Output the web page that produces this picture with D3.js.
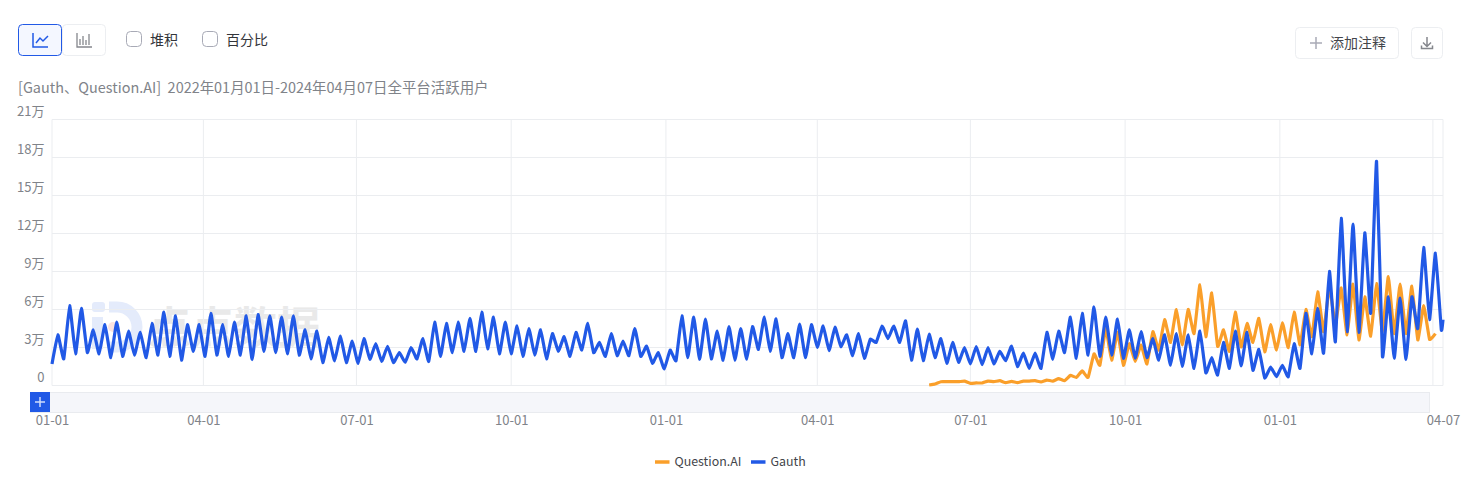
<!DOCTYPE html>
<html>
<head>
<meta charset="utf-8">
<script src="https://cdn.jsdelivr.net/npm/d3@7"></script>
<style>
  html, body { margin: 0; padding: 0; background: #fff; overflow: hidden; }
  svg { display: block; }
  text { font-family: "Noto Sans CJK SC", "Noto Sans", sans-serif; }
</style>
</head>
<body>
<div id="chart"></div>
<script>
// values in 万: one trough and one peak for every week
const gauth_values = [
  1.7,4.0, 2.1,6.3, 2.5,6.1, 2.6,4.4, 2.5,4.8, 2.2,5.0, 2.3,4.3, 2.4,4.2, 2.2,4.9, 2.4,5.8,
  2.3,5.5, 2.0,4.8, 2.7,4.8, 2.3,5.7, 2.4,4.8, 2.3,5.0, 2.4,5.5, 2.05,5.6, 2.7,5.5, 2.6,5.4,
  2.5,5.5, 2.4,4.4, 2.1,4.3, 1.8,3.8, 1.95,3.9, 1.8,3.5, 1.75,3.7, 2.07,3.3, 1.9,3.1, 1.8,2.6,
  1.83,3.0, 2.1,3.7, 1.9,5.0, 2.3,4.9, 2.6,5.0, 2.7,5.3, 2.7,5.8, 2.9,5.4, 2.5,5.0, 2.5,4.7,
  2.3,4.5, 2.4,4.4, 2.1,4.1, 2.7,3.85, 2.3,4.2, 2.8,4.9, 2.6,3.4, 2.3,4.1, 2.35,3.5, 2.35,4.5,
  2.3,3.1, 1.75,2.6, 1.3,2.8, 1.96,5.5, 2.2,5.4, 2.07,5.25, 2.1,4.3, 2.0,4.65, 2.0,4.5, 2.07,4.65,
  2.85,5.4, 2.7,5.25, 2.2,4.1, 2.2,4.85, 2.2,4.8, 3.0,4.7, 2.75,4.6, 3.07,4.0, 2.35,4.1, 2.15,3.65,
  3.4,4.7, 3.7,4.7, 3.4,5.1, 2.0,4.45, 1.96,4.05, 2.2,3.7, 1.75,3.4, 1.83,3.0, 1.7,3.07, 1.65,3.0,
  1.7,2.7, 1.96,3.1, 1.5,2.55, 1.35,2.55, 1.35,4.2, 2.07,4.3, 2.6,5.4, 2.15,5.7, 2.4,6.2, 2.3,5.4,
  2.4,5.25, 2.15,4.4, 2.15,4.25, 2.2,3.7, 2.0,4.0, 1.6,4.1, 1.5,4.0, 1.35,4.3, 1.0,2.2, 0.83,3.4,
  1.35,4.3, 1.55,4.2, 1.2,2.85, 0.6,1.45, 0.7,1.6, 0.7,3.3, 1.35,5.7, 2.5,6.1, 2.55,9.0, 3.45,13.2,
  4.25,12.75, 4.2,12.05, 5.7,17.7, 2.3,7.0, 2.15,6.9, 2.05,7.0, 4.5,10.9, 5.2,10.45, 4.4,5.2
]

// starts at the peak of week 74
const question_values = [
  0.04, 0.12,0.3, 0.3,0.3, 0.3,0.35, 0.17,0.2, 0.2,0.35, 0.3,0.38,
  0.22,0.33, 0.22,0.35, 0.35,0.38, 0.28,0.43, 0.35,0.54, 0.38,0.8, 0.64,1.15, 0.64,2.5,
  1.6,4.5, 2.0,4.2, 1.6,3.3, 1.9,3.2, 1.7,4.25, 2.8,5.2, 3.4,6.0, 3.2,6.0, 4.1,7.95, 3.85,7.3,
  3.1,4.4, 2.7,5.8, 3.05,4.9, 3.4,5.3, 2.65,4.8, 2.8,4.95, 3.0,5.8, 3.2,6.0, 3.85,7.4, 4.25,7.8,
  4.8,7.7, 4.0,8.0, 3.6,7.0, 3.9,8.05, 4.25,8.6, 4.1,8.0, 4.1,7.85, 3.6,6.3, 3.65, 4.1
]
const question_start_index = 149

const series_names = ["Question.AI", "Gauth"]
const series_colors = ["#fa9f2a", "#2159e6"]
const y_ticks = [0, 3, 6, 9, 12, 15, 18, 21]
const grid_dates = ["2022-04-01", "2022-07-01", "2022-10-01", "2023-01-01", "2023-04-01", "2023-07-01", "2023-10-01", "2024-01-01", "2024-04-01"]
const label_dates = ["2022-01-01", "2022-04-01", "2022-07-01", "2022-10-01", "2023-01-01", "2023-04-01", "2023-07-01", "2023-10-01", "2024-01-01", "2024-04-07"]
const start_date = "2022-01-01"
const end_date = "2024-04-07"
const subtitle = "[Gauth、Question.AI]  2022年01月01日-2024年04月07日全平台活跃用户"

const width = 1465
const height = 492
const margin = { left: 52, right: 22, top: 119.5, bottom: 106.5 }
const grid_color = "#ebedf0"
const label_color = "#808389"

const svg = d3.select("#chart").append("svg")
  .attr("width", width)
  .attr("height", height)

const parse = d3.utcParse("%Y-%m-%d")
const x = d3.scaleUtc()
  .domain([parse(start_date), parse(end_date)])
  .range([margin.left, width - margin.right])
const y = d3.scaleLinear()
  .domain([0, 21])
  .range([height - margin.bottom, margin.top])

// half week steps, last point is clipped to the end date
const date_at = (i) => new Date(Math.min(+parse(start_date) + i * 3.5 * 864e5, +parse(end_date)))

// toolbar
const box = (g, bx, by, w, h, stroke, fill, r = 4) => g.append("rect")
  .attr("x", bx).attr("y", by).attr("width", w).attr("height", h)
  .attr("rx", r).attr("fill", fill).attr("stroke", stroke)

const toolbar = svg.append("g")
box(toolbar, 62.5, 24.5, 43, 31, "#eceef1", "#fff")
box(toolbar, 18.5, 24.5, 43, 31, "#2159e6", "#f4f7ff")
toolbar.append("path")
  .attr("d", "M33 33v14h15M36 43l4-5 3 3 5-5")
  .attr("fill", "none").attr("stroke", "#2159e6").attr("stroke-width", 1.5)
toolbar.append("path")
  .attr("d", "M77 33v14h15M80 45v-6M83 45v-9M86 45v-5M89 45v-11")
  .attr("fill", "none").attr("stroke", "#85878d").attr("stroke-width", 1.3)

box(toolbar, 126.5, 31.5, 15, 15, "#a8aab6", "#fff", 4)
box(toolbar, 202.5, 31.5, 15, 15, "#a8aab6", "#fff", 4)
toolbar.append("text").attr("x", 150).attr("y", 44.5).attr("font-size", 14).attr("fill", "#33353a").text("堆积")
toolbar.append("text").attr("x", 226).attr("y", 44.5).attr("font-size", 14).attr("fill", "#33353a").text("百分比")

box(toolbar, 1295.5, 27.5, 103, 31, "#eceef1", "#fff")
toolbar.append("path")
  .attr("d", "M1310 43h12M1316 37v12")
  .attr("fill", "none").attr("stroke", "#a9abb6").attr("stroke-width", 1.5)
toolbar.append("text").attr("x", 1330).attr("y", 48).attr("font-size", 14).attr("fill", "#43454a").text("添加注释")
box(toolbar, 1411.5, 27.5, 31, 31, "#eceef1", "#fff")
toolbar.append("path")
  .attr("d", "M1427 37v9M1423 42.5l4 4 4-4M1421.500 45.500v3h11v-3")
  .attr("fill", "none").attr("stroke", "#85878d").attr("stroke-width", 1.5)

svg.append("text")
  .attr("x", 18).attr("y", 92.5)
  .attr("font-size", 14.44)
  .attr("fill", label_color)
  .attr("xml:space", "preserve")
  .text(subtitle)

// watermark
const watermark = svg.append("g")
watermark.append("rect").attr("x", 92).attr("y", 302).attr("width", 13).attr("height", 10).attr("rx", 3).attr("fill", "#e4ebfb")
watermark.append("rect").attr("x", 92).attr("y", 317).attr("width", 11).attr("height", 32).attr("fill", "#e4ebfb")
watermark.append("path")
  .attr("d", "M109 307h8a20 20 0 0 1 0 40h-8")
  .attr("fill", "none").attr("stroke", "#e4ebfb").attr("stroke-width", 11)
watermark.append("circle").attr("cx", 113).attr("cy", 327).attr("r", 5).attr("fill", "#fbe3e1")
watermark.append("text")
  .attr("x", 148).attr("y", 343)
  .attr("font-size", 43).attr("font-weight", 700)
  .attr("fill", "#e9e9e9")
  .text("点点数据")

// grid
const grid = svg.append("g")
grid.selectAll(".y-grid")
  .data(y_ticks)
  .join("line")
  .attr("class", "y-grid")
  .attr("x1", margin.left).attr("x2", width - margin.right)
  .attr("y1", d => y(d)).attr("y2", d => y(d))
  .attr("stroke", grid_color)
grid.selectAll(".x-grid")
  .data(grid_dates.map(parse).concat(x.domain()))
  .join("line")
  .attr("class", "x-grid")
  .attr("x1", d => x(d)).attr("x2", d => x(d))
  .attr("y1", margin.top).attr("y2", height - margin.bottom)
  .attr("stroke", grid_color)

// y axis
const y_axis = svg.append("g")
  .attr("transform", `translate(${margin.left - 7.5},0)`)
  .call(d3.axisLeft(y).tickValues(y_ticks).tickSize(0).tickPadding(0)
    .tickFormat(d => d === 0 ? "0" : `${d}万`))
y_axis.select(".domain").remove()
y_axis.selectAll("text")
  .attr("font-size", 13)
  .attr("fill", label_color)
  .attr("dy", "-0.33em")
  .style("font-family", '"Noto Sans CJK SC", sans-serif')

// lines, slight cardinal so the daily peaks are round but still pointed
const line = d3.line()
  .x(d => x(d.date))
  .y(d => y(d.value))
  .curve(d3.curveCardinal.tension(0.65))
const gauth_points = gauth_values.map((value, i) => ({ date: date_at(i), value }))
const question_points = question_values.map((value, i) => ({ date: date_at(i + question_start_index), value }))

svg.selectAll(".series")
  .data([question_points, gauth_points])
  .join("path")
  .attr("class", "series")
  .attr("d", line)
  .attr("fill", "none")
  .attr("stroke", (d, i) => series_colors[i])
  .attr("stroke-width", 3.2)
  .attr("stroke-linejoin", "round")

// slider
svg.append("rect")
  .attr("x", 30.5).attr("y", 392.5).attr("width", 1399).attr("height", 20)
  .attr("fill", "#f5f6fa").attr("stroke", "#e9ebef")
svg.append("rect")
  .attr("x", 30).attr("y", 392).attr("width", 20).attr("height", 20)
  .attr("fill", "#2159e6")
svg.append("path")
  .attr("d", "M35 402h10M40 397v10")
  .attr("stroke", "#cfdcfb").attr("stroke-width", 1.5)

// x axis, below the slider
const x_axis = svg.append("g")
  .attr("transform", "translate(0,415.5)")
  .call(d3.axisBottom(x).tickValues(label_dates.map(parse)).tickSize(0).tickPadding(0)
    .tickFormat(d3.utcFormat("%m-%d")))
x_axis.select(".domain").remove()
x_axis.selectAll("text")
  .attr("font-size", 13)
  .attr("fill", label_color)
  .style("font-family", '"Noto Sans CJK SC", sans-serif')

// legend
const legend_x = [655, 751]
const legend = svg.selectAll(".legend")
  .data(series_names)
  .join("g")
  .attr("class", "legend")
  .attr("transform", (d, i) => `translate(${legend_x[i]},462)`)
legend.append("line")
  .attr("x1", 0).attr("x2", 14.5)
  .attr("stroke", (d, i) => series_colors[i])
  .attr("stroke-width", 3.5)
legend.append("text")
  .attr("x", 19.5).attr("y", 4)
  .attr("font-size", 12.4)
  .attr("fill", "#43454a")
  .text(d => d)
</script>
</body>
</html>
